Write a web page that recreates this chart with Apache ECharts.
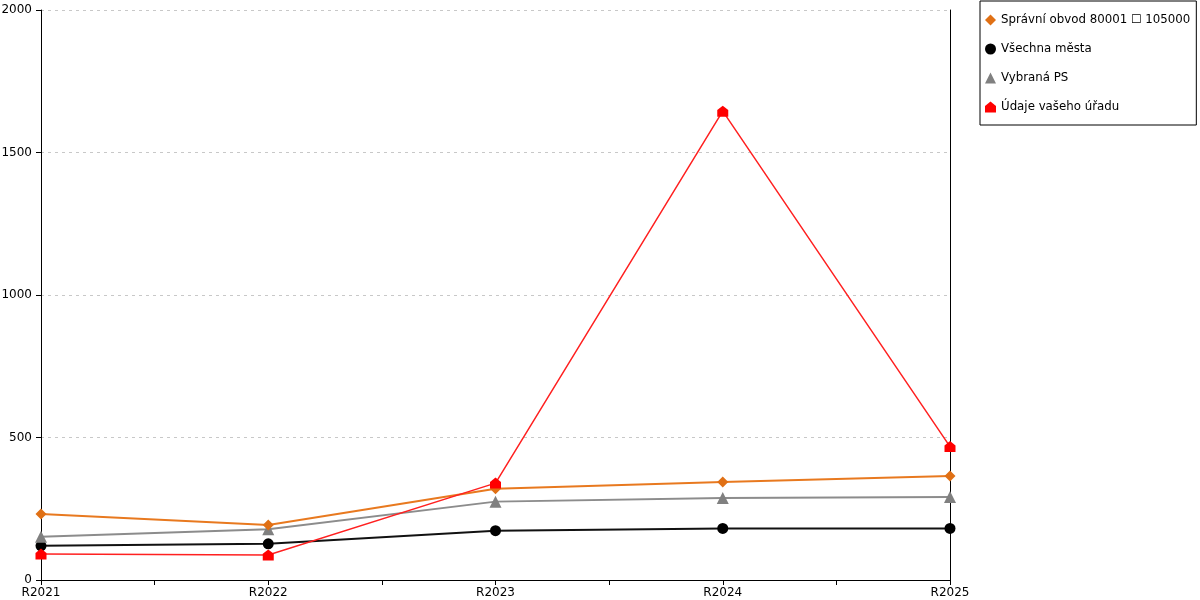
<!DOCTYPE html>
<html>
<head>
<meta charset="utf-8">
<script src="https://cdn.jsdelivr.net/npm/echarts@6/dist/echarts.min.js"></script>
<style>html,body{margin:0;padding:0;background:#fff;}#c{width:1200px;height:600px;}</style>
</head>
<body>
<div id="c"></div>
<script>
const categories = ['R2021', 'R2022', 'R2023', 'R2024', 'R2025'];
const yTicks = [0, 500, 1000, 1500, 2000];
const seriesNames = ['Správní obvod 80001 \u2610 105000', 'Všechna města', 'Vybraná PS', 'Údaje vašeho úřadu'];
const spravniObvod = [232, 193, 320, 344, 365];
const vsechnaMesta = [120, 127, 173, 181, 181];
const vybranaPS = [152, 178, 275, 288, 291];
const udajeUradu = [91, 88, 340, 1645, 468];

const houseSymbol = 'path://M0,10 L0,4 L5,0 L10,4 L10,10 Z';
const font = 'DejaVu Sans';

function toPoints(arr) { return arr.map((v, i) => [i, v]); }

const chart = echarts.init(document.getElementById('c'));
chart.setOption({
  animation: false,
  backgroundColor: '#fff',
  textStyle: { fontFamily: font },
  grid: { left: 41, right: 250, top: 10, bottom: 20, containLabel: false, outerBoundsMode: 'none' },
  legend: {
    orient: 'vertical',
    left: 980, top: 1,
    padding: [13, 6, 12, 5],
    itemGap: 17,
    itemWidth: 11, itemHeight: 11,
    borderColor: '#000', borderWidth: 1,
    textStyle: { fontFamily: font, fontSize: 11.8, color: '#000' },
    data: [
      { name: seriesNames[0], icon: 'diamond' },
      { name: seriesNames[1], icon: 'circle' },
      { name: seriesNames[2], icon: 'triangle' },
      { name: seriesNames[3], icon: houseSymbol }
    ]
  },
  xAxis: {
    type: 'value', min: 0, max: categories.length - 1, interval: 0.5,
    axisLine: { show: true, lineStyle: { color: '#000', width: 1 } },
    axisTick: { show: true, length: 5, lineStyle: { color: '#000' } },
    splitLine: { show: false },
    axisLabel: {
      color: '#000', fontFamily: font, fontSize: 12, margin: 7,
      formatter: v => Number.isInteger(v) ? categories[v] : ''
    }
  },
  yAxis: [{
    type: 'value', min: yTicks[0], max: yTicks[yTicks.length - 1], interval: 500,
    axisLine: { show: true, lineStyle: { color: '#000', width: 1 } },
    axisTick: { show: true, length: 5, lineStyle: { color: '#000' } },
    splitLine: { show: true, lineStyle: { color: '#c8c8c8', type: [3, 4], width: 1 } },
    axisLabel: { color: '#000', fontFamily: font, fontSize: 12, margin: 9, formatter: v => String(v) }
  }, {
    type: 'value', position: 'right', min: yTicks[0], max: yTicks[yTicks.length - 1],
    axisLine: { show: true, lineStyle: { color: '#000', width: 1 } },
    axisTick: { show: false }, axisLabel: { show: false }, splitLine: { show: false }
  }],
  series: [
    {
      name: seriesNames[0], type: 'line', data: toPoints(spravniObvod),
      symbol: 'diamond', symbolSize: 11, z: 3,
      lineStyle: { color: '#e8791f', width: 2 }, itemStyle: { color: '#e07015' }
    },
    {
      name: seriesNames[1], type: 'line', data: toPoints(vsechnaMesta),
      symbol: 'circle', symbolSize: 11, z: 2,
      lineStyle: { color: '#111', width: 2 }, itemStyle: { color: '#000' }
    },
    {
      name: seriesNames[2], type: 'line', data: toPoints(vybranaPS),
      symbol: 'triangle', symbolSize: 12, z: 2,
      lineStyle: { color: '#8c8c8c', width: 2 }, itemStyle: { color: '#808080' }
    },
    {
      name: seriesNames[3], type: 'line', data: toPoints(udajeUradu),
      symbol: houseSymbol, symbolSize: 11, z: 4,
      lineStyle: { color: '#ff2020', width: 1.5 }, itemStyle: { color: '#ff0000' }
    }
  ]
});
</script>
</body>
</html>
